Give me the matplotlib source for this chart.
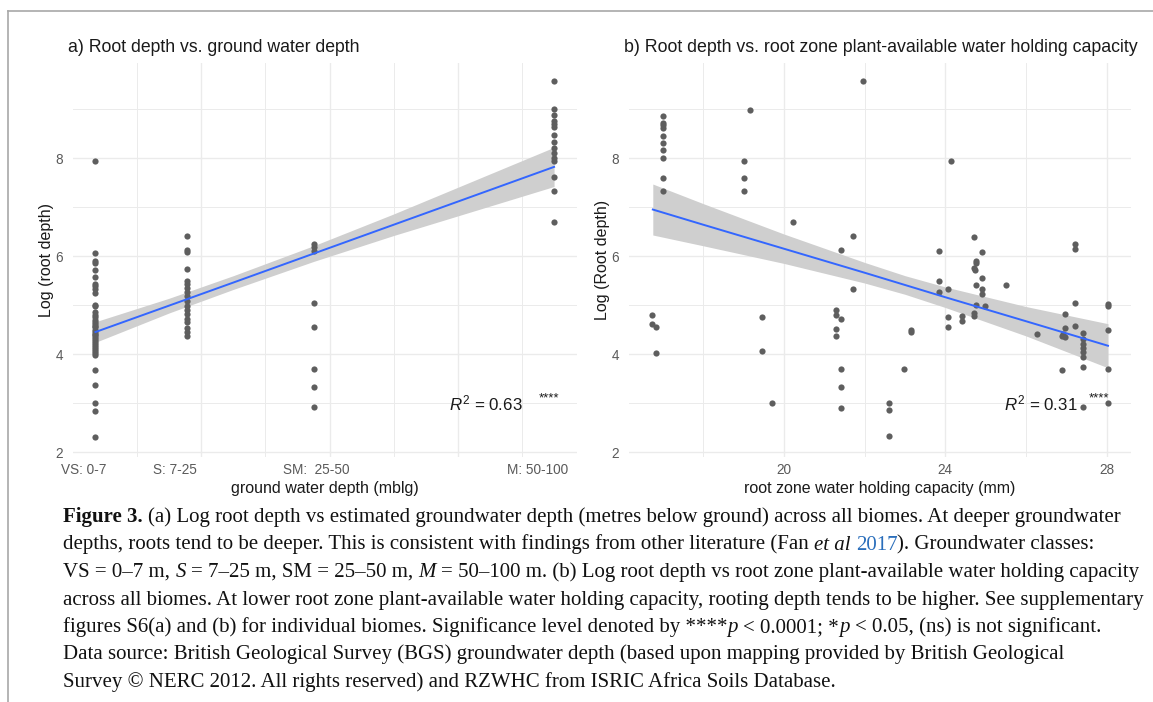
import matplotlib
matplotlib.use('Agg')
import matplotlib.pyplot as plt
from matplotlib.lines import Line2D

W, H, DPI = 1153, 702, 100

plt.rcParams['font.family'] = ['Liberation Sans', 'DejaVu Sans']
plt.rcParams['mathtext.fontset'] = 'custom'
plt.rcParams['mathtext.rm'] = 'Liberation Sans'
plt.rcParams['mathtext.it'] = 'Liberation Sans:italic'

# ---------------- Panel a data ----------------
gw_tick_pos = [1.7, 15.9, 37.9, 72.4]
gw_tick_labels = ['VS: 0-7', 'S: 7-25', 'SM:  25-50', 'M: 50-100']
gw_class_x = [3.5, 17.8, 37.5, 75.0]
root_vs = [7.93, 6.07, 5.90, 5.85, 5.72, 5.58, 5.43, 5.38, 5.32, 5.25, 5.00, 4.98,
           4.85, 4.80, 4.75, 4.70, 4.66, 4.62, 4.58, 4.55, 4.50, 4.46, 4.42, 4.38,
           4.34, 4.30, 4.26, 4.22, 4.18, 4.14, 4.10, 4.06, 4.02, 3.98, 3.68, 3.37,
           3.00, 2.84, 2.30]
root_s = [6.40, 6.13, 6.09, 5.74, 5.50, 5.43, 5.35, 5.27, 5.18, 5.08, 4.98, 4.90,
          4.82, 4.72, 4.65, 4.53, 4.45, 4.37]
root_sm = [6.25, 6.18, 6.10, 5.05, 4.56, 3.69, 3.33, 2.92]
root_m = [9.57, 9.00, 8.88, 8.75, 8.70, 8.63, 8.48, 8.32, 8.20, 8.10, 8.00, 7.95,
          7.62, 7.33, 6.70]
fit_a_x = [3.5, 15, 25, 37.5, 50, 62.5, 75]
fit_a_y = [4.45, 4.99, 5.46, 6.05, 6.64, 7.23, 7.82]
fit_a_hi = [4.66, 5.14, 5.60, 6.21, 6.86, 7.54, 8.22]
fit_a_lo = [4.24, 4.84, 5.32, 5.89, 6.42, 6.92, 7.42]

# ---------------- Panel b data ----------------
rzwhc = [16.72, 16.72, 16.83, 16.83,
         17.0, 17.0, 17.0, 17.0, 17.0, 17.0, 17.0, 17.0, 17.0, 17.0,
         19.0, 19.0, 19.0, 19.16, 19.45, 19.45, 19.70, 20.23,
         21.42, 21.30, 21.30, 21.42, 21.30, 21.30, 21.42, 21.42, 21.42,
         21.72, 21.72, 21.97, 22.61, 22.61, 22.61, 22.98, 23.16, 23.16,
         23.83, 23.83, 23.83, 24.07, 24.07, 24.07, 24.15, 24.42, 24.42,
         24.71, 24.70, 24.74, 24.77, 24.77, 24.77, 24.75, 24.71, 24.71,
         24.90, 24.90, 24.90, 24.90, 24.98, 25.50, 26.26,
         26.88, 26.88, 26.96, 26.96, 26.96, 26.92,
         27.20, 27.20, 27.20, 27.20,
         27.40, 27.40, 27.40, 27.40, 27.40, 27.40, 27.40, 27.40,
         28.03, 28.03, 28.03, 28.03, 28.03]
root_b = [4.80, 4.61, 4.56, 4.02,
          8.86, 8.72, 8.67, 8.62, 8.45, 8.31, 8.17, 8.00, 7.60, 7.32,
          7.94, 7.60, 7.32, 8.99, 4.75, 4.07, 3.00, 6.69,
          6.13, 4.90, 4.80, 4.72, 4.51, 4.36, 3.69, 3.33, 2.91,
          6.41, 5.32, 9.58, 3.01, 2.86, 2.33, 3.70, 4.49, 4.46,
          6.10, 5.50, 5.27, 5.33, 4.75, 4.56, 7.93, 4.78, 4.67,
          6.39, 5.75, 5.71, 5.90, 5.85, 5.41, 5.00, 4.83, 4.78,
          6.08, 5.56, 5.32, 5.22, 4.99, 5.41, 4.41,
          3.67, 4.37, 4.81, 4.54, 4.34, 4.40,
          6.24, 6.14, 5.05, 4.58,
          4.43, 4.30, 4.20, 4.12, 4.04, 3.95, 3.74, 2.93,
          5.02, 4.98, 4.50, 3.70, 3.00]
fit_b_x = [16.75, 18, 20, 22, 23, 24, 26, 28.03]
fit_b_y = [6.95, 6.64, 6.15, 5.66, 5.41, 5.16, 4.67, 4.17]
fit_b_hi = [7.47, 7.07, 6.45, 5.87, 5.60, 5.37, 4.97, 4.62]
fit_b_lo = [6.43, 6.21, 5.85, 5.45, 5.22, 4.95, 4.37, 3.72]

y_ticks = [2, 4, 6, 8]
y_minor = [3, 5, 7, 9]

# ---------------- styles ----------------
PT_COL = '#5e5e5e'
LINE_COL = '#3366FF'
RIB_COL = '#cfcfcf'
GRID_COL = '#ebebeb'
TICK_COL = '#5a5a5a'

fig = plt.figure(figsize=(W / DPI, H / DPI), dpi=DPI)


def box(l, r, t, b):
    return [l / W, 1 - b / H, (r - l) / W, (b - t) / H]


ax1 = fig.add_axes(box(72.5, 577, 63, 457))
ax2 = fig.add_axes(box(628.6, 1131, 63, 457))


def style_axes(ax, xmajor, xminor):
    for s in ax.spines.values():
        s.set_visible(False)
    ax.set_yticks(y_ticks)
    ax.set_yticks(y_minor, minor=True)
    ax.set_xticks(xminor, minor=True)
    ax.tick_params(which='both', length=0, colors=TICK_COL, labelsize=9.8)
    ax.tick_params(axis='y', which='both', pad=7)
    ax.tick_params(axis='x', which='both', pad=4)
    for v in y_ticks + y_minor:
        ax.axhline(v, color=GRID_COL, lw=1.0 if v in y_ticks else 0.7, zorder=0)
    for v in xmajor:
        ax.axvline(v, color=GRID_COL, lw=1.0, zorder=0)
    for v in xminor:
        ax.axvline(v, color=GRID_COL, lw=0.7, zorder=0)
    ax.set_ylim(1.9, 9.94)


# Panel a
style_axes(ax1, [20, 40, 60], [10, 30, 50, 70])
ax1.set_xlim(-0.075, 78.575)
ax1.set_xticks(gw_tick_pos)
ax1.set_xticklabels(gw_tick_labels)
ax1.fill_between(fit_a_x, fit_a_lo, fit_a_hi, color=RIB_COL, lw=0, zorder=2)
for xv, ys in zip(gw_class_x, [root_vs, root_s, root_sm, root_m]):
    ax1.scatter([xv] * len(ys), ys, s=20, color=PT_COL, lw=0, zorder=3)
ax1.plot(fit_a_x, fit_a_y, color=LINE_COL, lw=1.4, zorder=4)
ax1.text(58.6, 3.0, r'$R^2$ = 0.63', fontsize=12.2, ha='left', va='center', color='#1a1a1a', zorder=5)
ax1.text(72.6, 3.1, '****', fontsize=9.5, ha='left', va='center', color='#1a1a1a', zorder=5)
ax1.set_xlabel('ground water depth (mblg)', fontsize=11.5, color='#1a1a1a')
ax1.set_ylabel('Log (root depth)', fontsize=11.5, color='#1a1a1a')
ax1.xaxis.set_label_coords(0.5, (457 - 488) / 394)
ax1.xaxis.label.set_va('center')
ax1.yaxis.set_label_coords((46 - 72.5) / 504.5, 0.5)
ax1.yaxis.label.set_va('center')

# Panel b
style_axes(ax2, [20, 24, 28], [18, 22, 26])
ax2.set_xlim(16.15, 28.6)
ax2.set_xticks([20, 24, 28])
ax2.fill_between(fit_b_x, fit_b_lo, fit_b_hi, color=RIB_COL, lw=0, zorder=2)
ax2.scatter(rzwhc, root_b, s=20, color=PT_COL, lw=0, zorder=3)
ax2.plot(fit_b_x, fit_b_y, color=LINE_COL, lw=1.4, zorder=4)
ax2.text(25.45, 3.0, r'$R^2$ = 0.31', fontsize=12.2, ha='left', va='center', color='#1a1a1a', zorder=2.5)
ax2.text(27.55, 3.1, '****', fontsize=9.5, ha='left', va='center', color='#1a1a1a', zorder=2.5)
ax2.set_xlabel('root zone water holding capacity (mm)', fontsize=11.5, color='#1a1a1a')
ax2.set_ylabel('Log (Root depth)', fontsize=11.5, color='#1a1a1a')
ax2.xaxis.set_label_coords(0.5, (457 - 488) / 394)
ax2.xaxis.label.set_va('center')
ax2.yaxis.set_label_coords((602 - 628.6) / 502.4, 0.5)
ax2.yaxis.label.set_va('center')

# Titles
fig.text(68 / W, 1 - 47 / H, 'a) Root depth vs. ground water depth', fontsize=12.7,
         ha='left', va='center', color='#1a1a1a')
fig.text(624 / W, 1 - 47 / H, 'b) Root depth vs. root zone plant-available water holding capacity',
         fontsize=12.8, ha='left', va='center', color='#1a1a1a')

# Border lines
fig.add_artist(Line2D([8 / W, 1], [1 - 11 / H, 1 - 11 / H], transform=fig.transFigure,
                      color='#a8a8a8', lw=1.2))
fig.add_artist(Line2D([8 / W, 8 / W], [0, 1 - 11 / H], transform=fig.transFigure,
                      color='#a8a8a8', lw=1.2))

# ---------------- Caption ----------------
caption_lines = [
    [("Figure 3.", 'b'), (" (a) Log root depth vs estimated groundwater depth (metres below ground) across all biomes. At deeper groundwater", 'n')],
    [("depths, roots tend to be deeper. This is consistent with findings from other literature (Fan ", 'n'), ("et al", 'i'), (" ", 'n'), ("2017", 'l'), ("). Groundwater classes:", 'n')],
    [("VS = 0\u20137 m, ", 'n'), ("S", 'i'), (" = 7\u201325 m, SM = 25\u201350 m, ", 'n'), ("M", 'i'), (" = 50\u2013100 m. (b) Log root depth vs root zone plant-available water holding capacity", 'n')],
    [("across all biomes. At lower root zone plant-available water holding capacity, rooting depth tends to be higher. See supplementary", 'n')],
    [("figures S6(a) and (b) for individual biomes. Significance level denoted by ****", 'n'), ("p", 'i'), (" < 0.0001; *", 'n'), ("p", 'i'), (" < 0.05, (ns) is not significant.", 'n')],
    [("Data source: British Geological Survey (BGS) groundwater depth (based upon mapping provided by British Geological", 'n')],
    [("Survey \u00a9 NERC 2012. All rights reserved) and RZWHC from ISRIC Africa Soils Database.", 'n')],
]
CAP_X = 63
CAP_Y0 = 522
CAP_DY = 27.5
CAP_TARGET = 1140 - 63

renderer = fig.canvas.get_renderer()
STYLE = {
    'n': dict(),
    'b': dict(weight='bold'),
    'i': dict(style='italic'),
    'l': dict(color='#2a6ebb'),
}


def props(code, size):
    p = dict(family=['Liberation Serif', 'DejaVu Serif'], fontsize=size, color='#111111')
    p.update(STYLE[code])
    return p


def raw_w(s, p):
    t = fig.text(0, 0, s, **p)
    w = t.get_window_extent(renderer).width
    t.remove()
    return w


def run_w(s, p):
    return raw_w('|' + s + '|', p) - raw_w('||', p)


base = 12.0
w4 = sum(run_w(s, props(c, base)) for s, c in caption_lines[3])
cap_size = base * CAP_TARGET / w4

for i, line in enumerate(caption_lines):
    x = CAP_X
    y = CAP_Y0 + i * CAP_DY
    for s, c in line:
        p = props(c, cap_size)
        lead = len(s) - len(s.lstrip(' '))
        if s.strip():
            off = run_w(s[:lead], p) if lead else 0
            fig.text((x + off) / W, 1 - y / H, s.strip(' '), ha='left', va='baseline', **p)
        x += run_w(s, p)

fig.savefig('out.png', dpi=DPI)
